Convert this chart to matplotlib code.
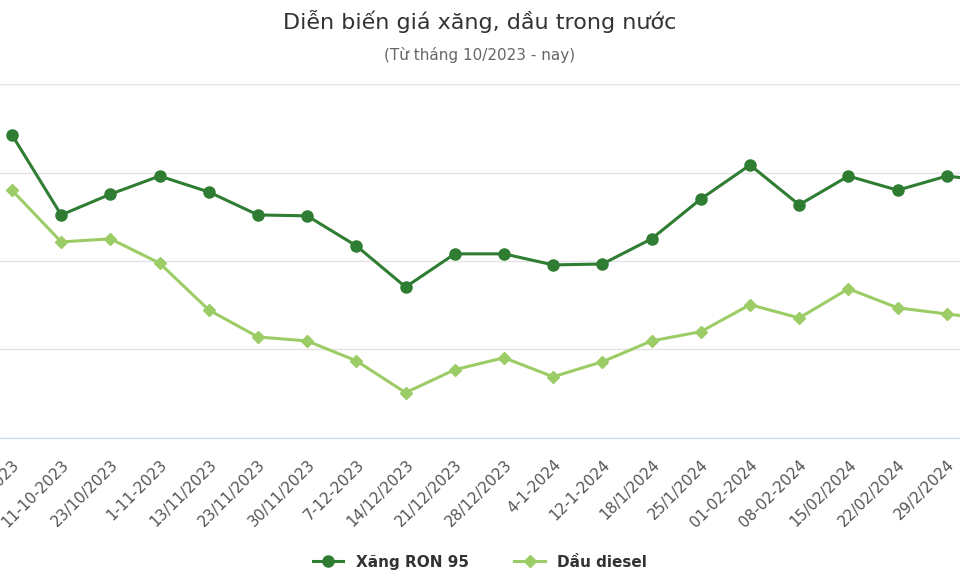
import matplotlib.pyplot as plt

dates = ['2-10-2023', '11-10-2023', '23/10/2023', '1-11-2023', '13/11/2023', '23/11/2023',
         '30/11/2023', '7-12-2023', '14/12/2023', '21/12/2023', '28/12/2023', '4-1-2024',
         '12-1-2024', '18/1/2024', '25/1/2024', '01-02-2024', '08-02-2024', '15/02/2024',
         '22/02/2024', '29/2/2024', '7-3-2024']
ron95 = [24850, 23040, 23510, 23920, 23560, 23040, 23020, 22340, 21410, 22160, 22160,
         21910, 21930, 22500, 23400, 24170, 23270, 23920, 23600, 23920, 23790]
diesel = [23600, 22430, 22500, 21950, 20890, 20280, 20190, 19740, 19020, 19540, 19810,
          19380, 19720, 20190, 20400, 21010, 20710, 21370, 20940, 20800, 20670]

dark = '#2e7d32'
light = '#9ccc65'

fig = plt.figure(figsize=(9.6, 5.76), dpi=100)
ax = fig.add_axes([0, 0.240, 1, 0.614])
x = list(range(len(dates)))
ax.plot(x, ron95, color=dark, lw=2.2, marker='o', ms=8, label='Xăng RON 95')
ax.plot(x, diesel, color=light, lw=2.2, marker='D', ms=6.5, label='Dầu diesel')

ax.set_yticks([18000, 20000, 22000, 24000, 26000])
ax.tick_params(axis='y', length=0, labelleft=False)
ax.grid(axis='y', color='#e3e3e3', lw=1)
ax.set_axisbelow(True)
for s in ['left', 'right', 'top']:
    ax.spines[s].set_visible(False)
ax.spines['bottom'].set_color('#ccd6eb')
ax.set_xticks(x)
ax.set_xticklabels(dates, rotation=45, ha='right', rotation_mode='anchor',
                   fontsize=11, color='#555555')
ax.tick_params(axis='x', length=0, pad=14)
# limits after ticks so the ticks do not widen the view
ax.set_xlim(-12 / 49.2, 960 / 49.2 - 12 / 49.2)
ax.set_ylim(18000, 26000)

fig.text(0.5, 0.962, 'Diễn biến giá xăng, dầu trong nước', ha='center', va='center',
         fontsize=16, color='#333333')
fig.text(0.5, 0.904, '(Từ tháng 10/2023 - nay)', ha='center', va='center',
         fontsize=11, color='#666666')
fig.legend(loc='center', bbox_to_anchor=(0.5, 0.024), ncol=2, frameon=False,
           prop={'weight': 'bold', 'size': 11}, labelcolor='#333333',
           columnspacing=3, handlelength=2)

fig.savefig('out.png', dpi=100)
